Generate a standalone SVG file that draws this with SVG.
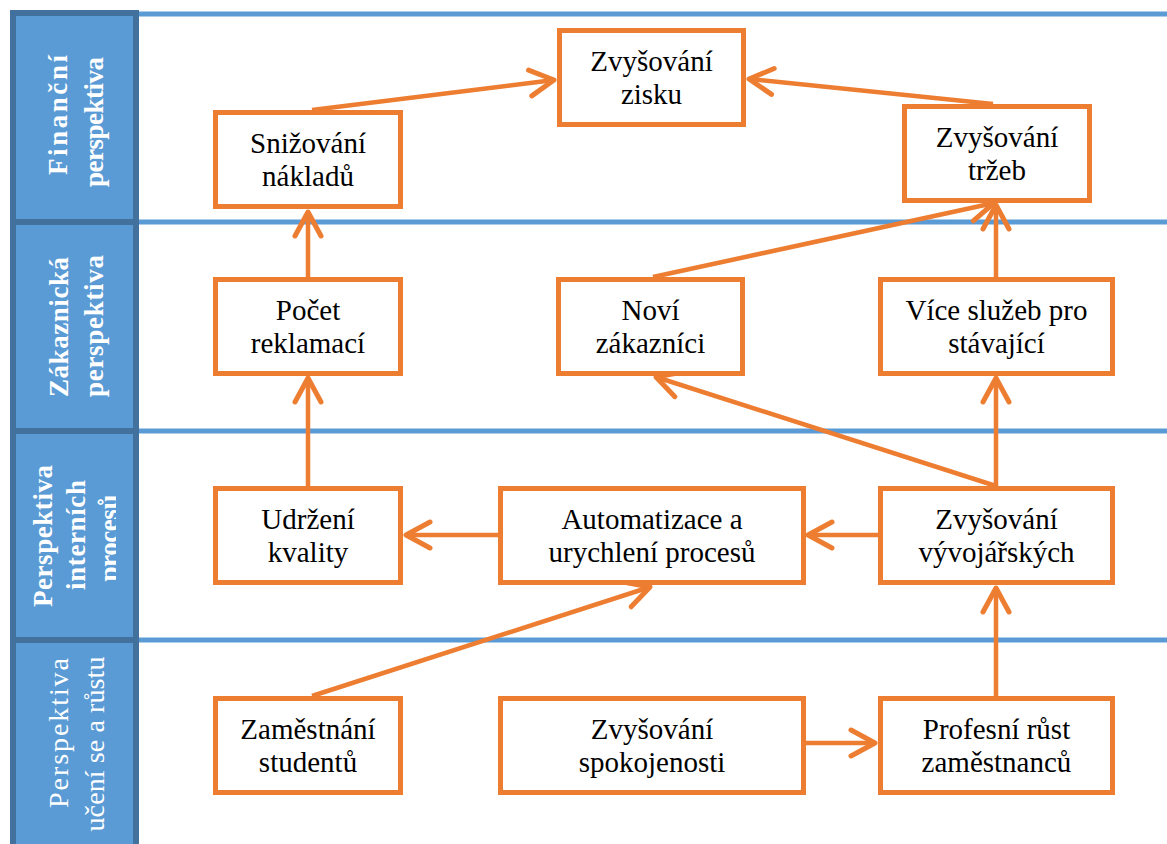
<svg xmlns="http://www.w3.org/2000/svg" width="1167" height="844" viewBox="0 0 1167 844">
<style>
.box{fill:#fff;stroke:#ED7D31;stroke-width:5}
.t{font-size:29px;fill:#000;text-anchor:middle}
.lab{font-size:27px;font-weight:bold;fill:#fff;text-anchor:middle}
.labr{font-size:28px;fill:#fff;text-anchor:middle}
.con{fill:none;stroke:#ED7D31;stroke-width:4.5;marker-end:url(#ah)}
.lane{stroke:#5B9BD5;stroke-width:5}
.div{stroke:#41719C;stroke-width:6}
</style>
<defs>
<marker id="ah" markerUnits="userSpaceOnUse" viewBox="-30 -20 40 40" refX="0" refY="0" markerWidth="40" markerHeight="40" orient="auto">
<path d="M-24,-13 L0,0 L-24,13" fill="none" stroke="#ED7D31" stroke-width="5" stroke-linecap="round" stroke-linejoin="round"/>
</marker>
<clipPath id="c3"><rect x="16" y="434" width="100" height="204"/></clipPath>
</defs>
<rect width="1167" height="844" fill="#fff"/>
<g id="lanes">
<line class="lane" x1="139" y1="14" x2="1167" y2="14"/>
<line class="lane" x1="139" y1="222" x2="1167" y2="222"/>
<line class="lane" x1="139" y1="431" x2="1167" y2="431"/>
<line class="lane" x1="139" y1="640" x2="1167" y2="640"/>
</g>
<g id="sidebar" font-family="Liberation Serif, Tinos, Times New Roman, serif">
<rect x="13" y="13" width="123" height="840" fill="#5B9BD5" stroke="#41719C" stroke-width="6"/>
<line class="div" x1="13" y1="222" x2="136" y2="222"/>
<line class="div" x1="13" y1="431" x2="136" y2="431"/>
<line class="div" x1="13" y1="640" x2="136" y2="640"/>
<text class="lab" transform="translate(67,115) rotate(-90)" textLength="120">Finanční</text>
<text class="lab" transform="translate(103,122) rotate(-90)" textLength="130">perspektiva</text>
<text class="lab" transform="translate(68,327) rotate(-90)" textLength="140">Zákaznická</text>
<text class="lab" transform="translate(103,326) rotate(-90)" textLength="142">perspektiva</text>
<g clip-path="url(#c3)">
<text class="lab" transform="translate(52,536) rotate(-90)" textLength="142">Perspektiva</text>
<text class="lab" transform="translate(85,535) rotate(-90)" textLength="110">interních</text>
<text class="lab" transform="translate(118,538) rotate(-90)" textLength="87">procesů</text>
</g>
<text class="labr" transform="translate(68,733) rotate(-90)" textLength="150">Perspektiva</text>
<text class="labr" transform="translate(104,744) rotate(-90)" textLength="175">učení se a růstu</text>
</g>
<g id="connectors">
<path class="con" d="M312,110 L554,80"/>
<path class="con" d="M993,104 L749,79"/>
<path class="con" d="M308,277 L308,212"/>
<path class="con" d="M653,277 L994,203"/>
<path class="con" d="M996,277 L996,205"/>
<path class="con" d="M996,486 L996,378"/>
<path class="con" d="M996,486 L656,377"/>
<path class="con" d="M878,535 L808,535"/>
<path class="con" d="M498,535 L406,535"/>
<path class="con" d="M308,486 L308,378"/>
<path class="con" d="M312,696 L650,587"/>
<path class="con" d="M806,743 L875,743"/>
<path class="con" d="M996,696 L996,588"/>
</g>
<g id="nodes" font-family="Liberation Serif, Tinos, Times New Roman, serif">
<g id="n-zisk"><rect class="box" x="559.5" y="30.5" width="184" height="94"/><text class="t" x="651.5" y="71">Zvyšování</text><text class="t" x="651.5" y="104">zisku</text></g>
<g id="n-naklady"><rect class="box" x="215.5" y="112.5" width="185" height="94"/><text class="t" x="308" y="153">Snižování</text><text class="t" x="308" y="186">nákladů</text></g>
<g id="n-trzby"><rect class="box" x="904.5" y="106.5" width="185" height="94"/><text class="t" x="997" y="147">Zvyšování</text><text class="t" x="997" y="180">tržeb</text></g>
<g id="n-reklamace"><rect class="box" x="215.5" y="279.5" width="185" height="94"/><text class="t" x="308" y="320">Počet</text><text class="t" x="308" y="353">reklamací</text></g>
<g id="n-novi"><rect class="box" x="558.5" y="279.5" width="184" height="94"/><text class="t" x="650.5" y="320">Noví</text><text class="t" x="650.5" y="353">zákazníci</text></g>
<g id="n-vice"><rect class="box" x="880.5" y="279.5" width="232" height="94"/><text class="t" x="996.5" y="320">Více služeb pro</text><text class="t" x="996.5" y="353">stávající</text></g>
<g id="n-kvalita"><rect class="box" x="215.5" y="488.5" width="185" height="94"/><text class="t" x="308" y="529">Udržení</text><text class="t" x="308" y="562">kvality</text></g>
<g id="n-automatizace"><rect class="box" x="500.5" y="488.5" width="303" height="94"/><text class="t" x="652" y="529">Automatizace a</text><text class="t" x="652" y="562">urychlení procesů</text></g>
<g id="n-vyvojari"><rect class="box" x="880.5" y="488.5" width="232" height="94"/><text class="t" x="996.5" y="529">Zvyšování</text><text class="t" x="996.5" y="562">vývojářských</text></g>
<g id="n-studenti"><rect class="box" x="215.5" y="698.5" width="185" height="94"/><text class="t" x="308" y="739">Zaměstnání</text><text class="t" x="308" y="772">studentů</text></g>
<g id="n-spokojenost"><rect class="box" x="500.5" y="698.5" width="303" height="94"/><text class="t" x="652" y="739">Zvyšování</text><text class="t" x="652" y="772">spokojenosti</text></g>
<g id="n-rust"><rect class="box" x="880.5" y="698.5" width="232" height="94"/><text class="t" x="996.5" y="739">Profesní růst</text><text class="t" x="996.5" y="772">zaměstnanců</text></g>
</g>
</svg>
